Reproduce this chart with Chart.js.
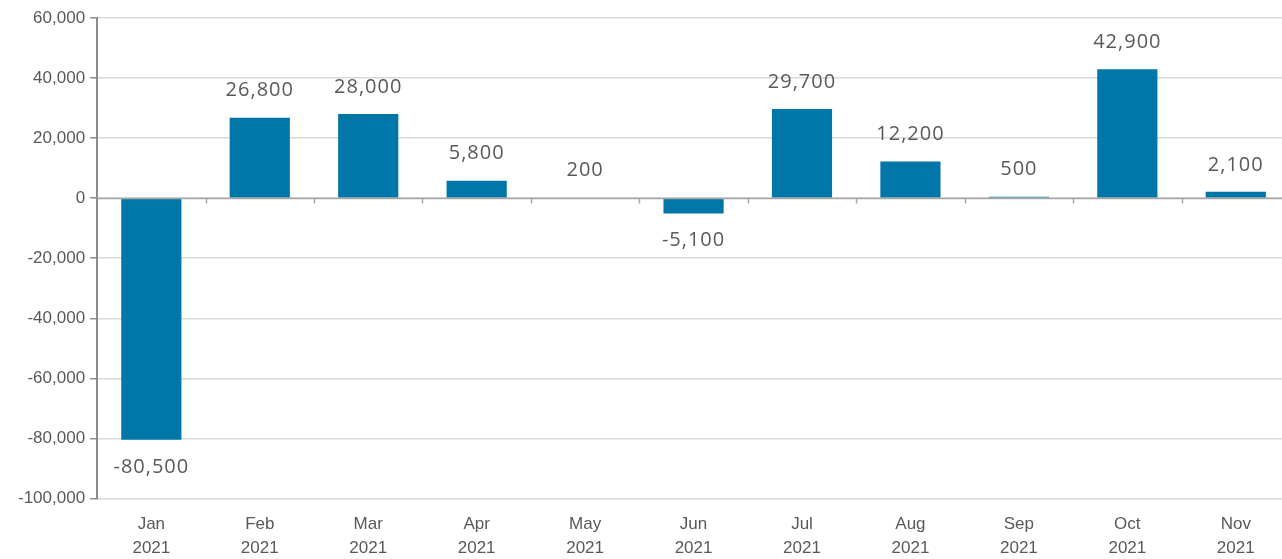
<!DOCTYPE html>
<html>
<head>
<meta charset="utf-8">
<script src="https://cdn.jsdelivr.net/npm/chart.js@4/dist/chart.umd.min.js"></script>
<style>
  html, body { margin: 0; padding: 0; background: #fff; overflow: hidden; }
  .wrap { position: relative; width: 1290px; height: 574px; }
</style>
</head>
<body>
<div class="wrap"><canvas id="chart"></canvas></div>
<script>
const months = ['Jan', 'Feb', 'Mar', 'Apr', 'May', 'Jun', 'Jul', 'Aug', 'Sep', 'Oct', 'Nov'];
const year = '2021';
const values = [-80500, 26800, 28000, 5800, 200, -5100, 29700, 12200, 500, 42900, 2100];
const yMin = -100000;
const yMax = 60000;
const yStep = 20000;

const fmt = v => v.toLocaleString('en-US');

// zero line with small ticks between categories, plus value labels
const zeroLine = {
  id: 'zeroLine',
  afterDatasetsDraw(chart) {
    const { ctx, chartArea, scales: { x, y } } = chart;
    const y0 = Math.round(y.getPixelForValue(0)) + 0.5;
    ctx.save();
    ctx.strokeStyle = '#a6a6a6';
    ctx.lineWidth = 1.5;
    ctx.beginPath();
    ctx.moveTo(chartArea.left, y0);
    ctx.lineTo(chartArea.right, y0);
    for (let i = 1; i < months.length; i++) {
      const bx = Math.round((x.getPixelForValue(i - 1) + x.getPixelForValue(i)) / 2) + 0.5;
      ctx.moveTo(bx, y0);
      ctx.lineTo(bx, y0 + 5);
    }
    ctx.stroke();

    const meta = chart.getDatasetMeta(0);
    ctx.fillStyle = '#595959';
    ctx.font = '20px "Open Sans", Lato, sans-serif';
    if ('letterSpacing' in ctx) ctx.letterSpacing = '1px';
    ctx.textAlign = 'center';
    ctx.textBaseline = 'middle';
    meta.data.forEach((bar, i) => {
      const v = values[i];
      const ty = v >= 0 ? bar.y - 27 : bar.y + 27;
      ctx.fillText(fmt(v), bar.x, ty);
    });
    ctx.restore();
  }
};

new Chart(document.getElementById('chart'), {
  type: 'bar',
  data: {
    labels: months.map(m => [m, year]),
    datasets: [{
      data: values,
      backgroundColor: '#0077a8',
      borderWidth: 0,
      barPercentage: 0.555,
      categoryPercentage: 1.0
    }]
  },
  options: {
    responsive: true,
    maintainAspectRatio: false,
    animation: false,
    layout: { padding: { top: 18, right: 0, left: 13, bottom: 0 } },
    plugins: {
      legend: { display: false },
      tooltip: { enabled: false }
    },
    scales: {
      x: {
        grid: { display: false, drawTicks: false },
        border: { display: false },
        ticks: {
          color: '#595959',
          font: { family: '"Liberation Sans", Arial, sans-serif', size: 17, lineHeight: 1.4 },
          padding: 14,
          maxRotation: 0
        }
      },
      y: {
        min: yMin,
        max: yMax,
        grid: {
          color: '#d9d9d9',
          lineWidth: 1.5,
          tickLength: 7,
          tickColor: '#8c8c8c'
        },
        border: { display: true, color: '#8c8c8c', width: 2 },
        ticks: {
          stepSize: yStep,
          color: '#595959',
          padding: 5,
          font: { family: '"Liberation Sans", Arial, sans-serif', size: 17 },
          callback: v => fmt(v)
        }
      }
    }
  },
  plugins: [zeroLine]
});
</script>
</body>
</html>
